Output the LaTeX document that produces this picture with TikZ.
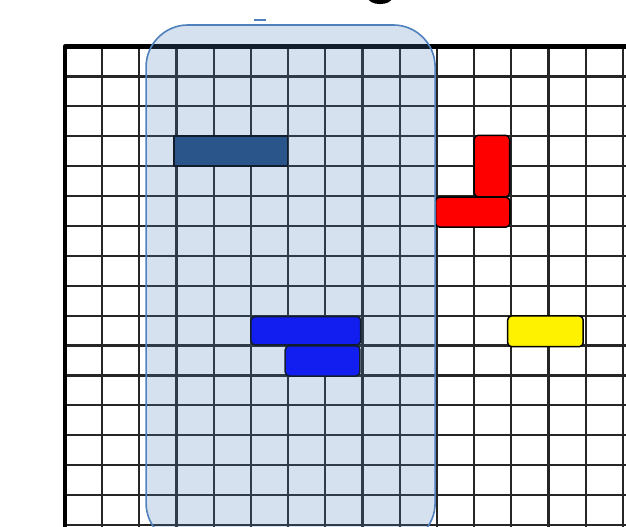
\documentclass[tikz,border=0pt]{standalone}
\definecolor{selblue}{RGB}{79,129,189}
\definecolor{darkbar}{RGB}{31,73,125}
\begin{document}
\begin{tikzpicture}[x=37.2pt,y=-29.9pt,line join=round,piece/.style={draw=black,line width=1.5pt,rounded corners=4pt}]
\clip (-1.747,-1.555) rectangle (15.081,16.037);
\fill[white] (-1.747,-1.555) rectangle (15.081,16.037);
\foreach \i in {1,...,15}\draw[line width=2.2pt,black!85] (\i,0)--(\i,16.1);
\foreach \j in {1,...,16}\draw[line width=2.2pt,black!85] (0,\j)--(15.1,\j);
\draw[line width=4.5pt] (0,16.1)--(0,0)--(15.1,0);
\fill[black] (8.47,-1.62) ellipse (.32 and .2);
\draw[selblue,line width=1.5pt] (5.08,-.886)--(5.4,-.886);
\draw[fill=darkbar,line width=1.8pt] (2.92,3) rectangle (5.98,4);
\draw[piece,fill=red] (11,2.97) rectangle (11.95,5.03);
\draw[piece,fill=red] (9.96,5.04) rectangle (11.96,6.04);
\draw[piece,fill=yellow] (11.9,9.01) rectangle (13.93,10.04);
\draw[piece,fill=blue] (5,9.03) rectangle (7.95,9.98);
\draw[piece,fill=blue] (5.92,10.01) rectangle (7.93,11.02);
\draw[selblue,line width=1.6pt,fill=selblue,fill opacity=.23,rounded corners=42pt] (2.18,-.72) rectangle (9.95,16.67);
\end{tikzpicture}
\end{document}
